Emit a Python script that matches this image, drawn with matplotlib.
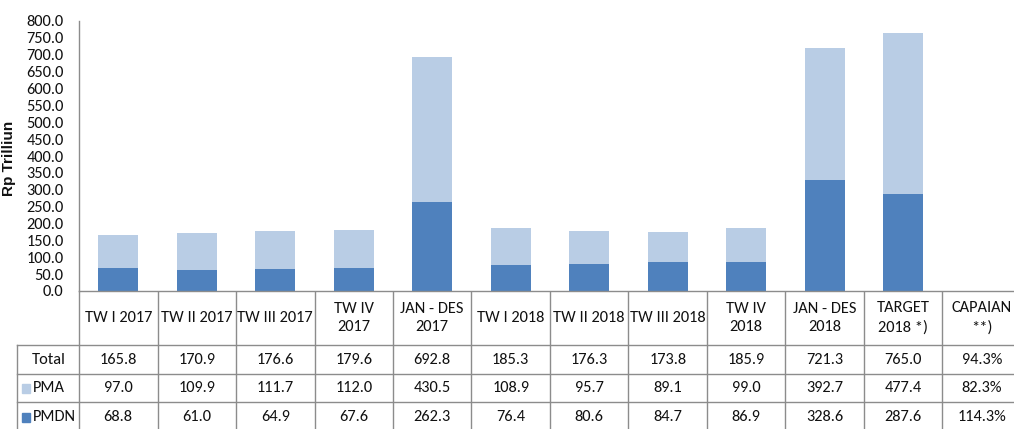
import numpy as np
import matplotlib
matplotlib.use("Agg")
import matplotlib.pyplot as plt
from matplotlib import transforms
from matplotlib.patches import Rectangle

# ---- data ----
categories = ["TW I 2017", "TW II 2017", "TW III 2017", "TW IV\n2017", "JAN - DES\n2017",
              "TW I 2018", "TW II 2018", "TW III 2018", "TW IV\n2018", "JAN - DES\n2018",
              "TARGET\n2018 *)", "CAPAIAN\n**)"]
pma = [97.0, 109.9, 111.7, 112.0, 430.5, 108.9, 95.7, 89.1, 99.0, 392.7, 477.4]
pmdn = [68.8, 61.0, 64.9, 67.6, 262.3, 76.4, 80.6, 84.7, 86.9, 328.6, 287.6]
total_row = ["165.8", "170.9", "176.6", "179.6", "692.8", "185.3", "176.3", "173.8",
             "185.9", "721.3", "765.0", "94.3%"]
pma_row = ["97.0", "109.9", "111.7", "112.0", "430.5", "108.9", "95.7", "89.1",
           "99.0", "392.7", "477.4", "82.3%"]
pmdn_row = ["68.8", "61.0", "64.9", "67.6", "262.3", "76.4", "80.6", "84.7",
            "86.9", "328.6", "287.6", "114.3%"]
row_labels = ["Total", "PMA", "PMDN"]
yticks = np.arange(0, 801, 50)

# ---- style ----
C_PMDN = "#4F81BD"
C_PMA = "#B9CDE5"
GRID = "#8c8c8c"
TXT = "#111111"
FONT = ["Carlito", "DejaVu Sans"]
plt.rcParams["font.family"] = FONT
FS = 11.8

W, H = 1014, 429
fig = plt.figure(figsize=(W / 100, H / 100), dpi=100)

n = len(categories)
colw = 78.5
x0 = 79
ax = fig.add_axes([x0 / W, 1 - 291 / H, n * colw / W, 270 / H])
x = np.arange(len(pma))
ax.bar(x, pmdn, width=0.51, color=C_PMDN, zorder=2)
ax.bar(x, pma, width=0.51, bottom=pmdn, color=C_PMA, zorder=2)
ax.set_xlim(-0.5, n - 0.5)
ax.set_ylim(0, 800)
ax.set_yticks(yticks)
ax.set_yticklabels([f"{v:.1f}" for v in yticks], fontsize=FS, color=TXT)
ax.tick_params(axis="y", length=0, pad=11)
ax.set_xticks([])
for s in ["top", "right"]:
    ax.spines[s].set_visible(False)
for s in ["left", "bottom"]:
    ax.spines[s].set_color(GRID)
    ax.spines[s].set_linewidth(1.0)
ax.set_ylabel("Rp Trilliun", fontsize=11, fontweight="bold",
              family=["Liberation Sans", "DejaVu Sans"], color=TXT)
ax.yaxis.set_label_coords(-63 / (n * colw), 0.49)

# ---- table ----
tab = fig.add_axes([0, 0, 1, 1], zorder=-1)
tab.set_xlim(0, W)
tab.set_ylim(H, 0)
tab.axis("off")
tr = transforms.blended_transform_factory(ax.transData, tab.transData)

y_axis = 291
y_rows = [345, 374, 402]
y_bottom = H + 5
left_px = 17

for k in range(n + 1):
    tab.plot([k - 0.5, k - 0.5], [y_axis, y_bottom], color=GRID, lw=1.0,
             transform=tr, clip_on=False)
tab.plot([left_px, left_px], [y_rows[0], y_bottom], color=GRID, lw=1.0)
for yr in y_rows:
    tab.plot([left_px, W + 10], [yr, yr], color=GRID, lw=1.0, clip_on=False)

for k, c in enumerate(categories):
    tab.text(k, 318, c, transform=tr, ha="center", va="center", fontsize=FS,
             color=TXT, linespacing=1.45)

row_y = [359.5, 388.5, 417]
for vals, yy in zip([total_row, pma_row, pmdn_row], row_y):
    for k, v in enumerate(vals):
        tab.text(k, yy, v, transform=tr, ha="center", va="center", fontsize=FS, color=TXT)

tab.text(49, row_y[0], row_labels[0], ha="center", va="center", fontsize=FS, color=TXT)
for lab, yy, col in zip(row_labels[1:], row_y[1:], [C_PMA, C_PMDN]):
    tab.add_patch(Rectangle((22, yy - 4.5), 8, 9, color=col))
    tab.text(33, yy, lab, ha="left", va="center", fontsize=FS, color=TXT)

fig.savefig("out.png", dpi=100)
